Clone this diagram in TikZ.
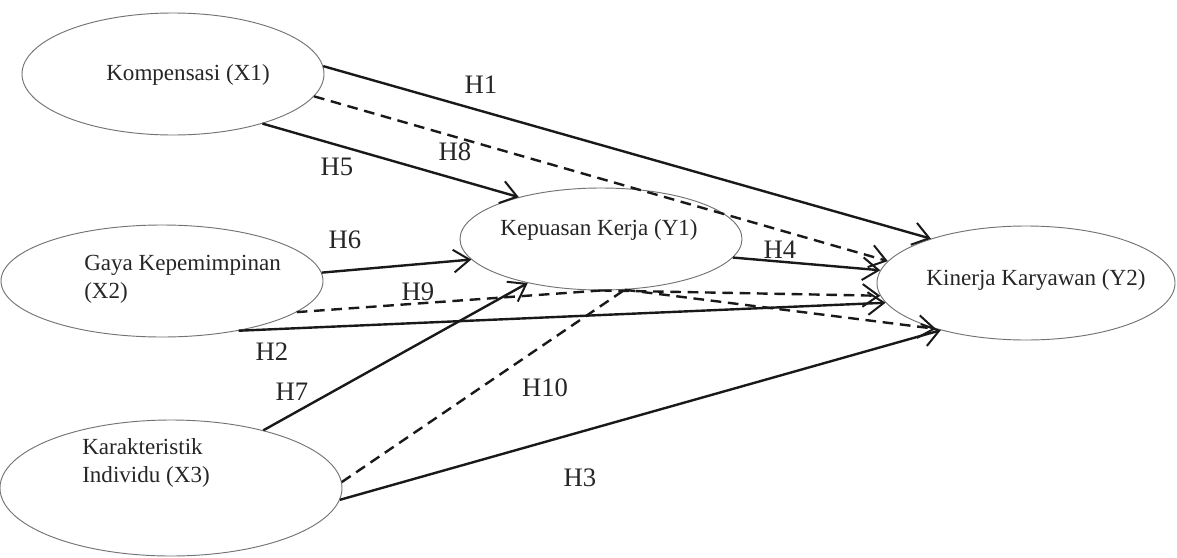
\documentclass[tikz,border=0pt]{standalone}
\usepackage{fontspec}
\setmainfont{Liberation Serif}
\usetikzlibrary{shapes.geometric,arrows.meta}
\tikzset{
  var/.style={ellipse, draw=black!55, line width=0.7pt, inner sep=0pt, fill=white},
  vtext/.style={font=\fontsize{17.3}{21}\selectfont, text=black!85, inner sep=0pt, align=left},
  hlab/.style={font=\fontsize{20}{22}\selectfont, text=black!85, inner sep=0pt},
  path/.style={line width=1.8pt, black!90, -{Straight Barb[length=12pt,width=17pt,line width=1.5pt]}},
  dpath/.style={path, dash pattern=on 8pt off 5pt},
  dseg/.style={line width=1.8pt, black!90, dash pattern=on 8pt off 5pt}
}
\begin{document}
\begin{tikzpicture}[x=0.75pt,y=-0.75pt]
\useasboundingbox (0,0) rectangle (1177,557);
\fill[white] (0,0) rectangle (1177,557);
% ellipses
\node[var, minimum width=226.5pt, minimum height=91.5pt] (X1) at (173,74) {};
\node[var, minimum width=241.5pt, minimum height=84pt] (X2) at (162,281) {};
\node[var, minimum width=256.5pt, minimum height=102pt] (X3) at (171,488) {};
\node[var, minimum width=211.5pt, minimum height=76.5pt] (Y1) at (601,239) {};
\node[var, minimum width=223.5pt, minimum height=85.5pt] (Y2) at (1026,283) {};
% texts
\node[vtext] (tX1) at (188,75) {Kompensasi (X1)};
\node[vtext, anchor=west] (tX2) at (84,279) {Gaya Kepemimpinan\\(X2)};
\node[vtext, anchor=west] (tX3) at (82,463) {Karakteristik\\Individu (X3)};
\node[vtext] (tY1) at (599,230) {Kepuasan Kerja (Y1)};
\node[vtext] (tY2) at (1036,280) {Kinerja Karyawan (Y2)};
% connectors
\draw[path] (X1.3.5) -- (Y2.155);
\draw[dpath] (X1.-9) -- (Y2.171);
\draw[path] (X1.-29) -- (Y1.153.7);
\draw[path] (X2.3.2) -- (Y1.189.8);
\draw[path] (Y1.-8.6) -- (Y2.175);
\draw[dseg] (X2.-13.7) -- (Y1.south);
\draw[dpath] (Y1.south) -- (Y2.185);
\draw[path] (X2.-33) -- (Y2.188);
\draw[path] (X3.32.5) -- (Y1.211);
\draw[dseg] (X3.2.7) -- (Y1.-65);
\draw[dpath] (Y1.-65) -- (Y2.207);
\draw[path] (X3.-4) -- (Y2.209);
% labels
\node[hlab] (h1) at (481,85) {H1};
\node[hlab] (h8) at (455,152) {H8};
\node[hlab] (h5) at (337,167) {H5};
\node[hlab] (h6) at (345,240) {H6};
\node[hlab] (h4) at (780,250) {H4};
\node[hlab] (h9) at (418,292) {H9};
\node[hlab] (h2) at (272,352) {H2};
\node[hlab] (h7) at (292,392) {H7};
\node[hlab] (h10) at (545,388) {H10};
\node[hlab] (h3) at (580,478) {H3};
\end{tikzpicture}
\end{document}
